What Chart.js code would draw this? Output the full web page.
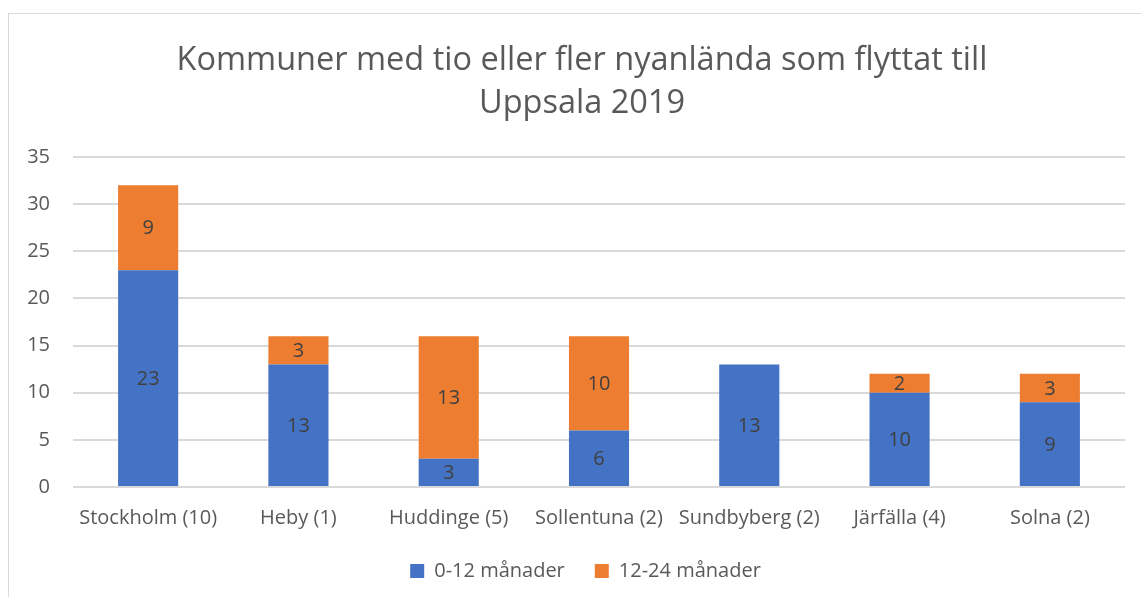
<!DOCTYPE html>
<html>
<head>
<meta charset="utf-8">
<script src="https://cdn.jsdelivr.net/npm/chart.js@4/dist/chart.umd.min.js"></script>
<style>
  html, body { margin: 0; padding: 0; background: #fff; }
  #wrap { position: relative; width: 1141px; height: 597px; overflow: hidden; }
  #frame { position: absolute; left: 8px; top: 13px; width: 1200px; height: 700px;
           border-left: 1px solid #d9d9d9; border-top: 1px solid #d9d9d9; }
  canvas { position: absolute; left: 0; top: 0; }
</style>
</head>
<body>
<div id="wrap">
  <div id="frame"></div>
  <canvas id="chartCanvas" width="1141" height="597"></canvas>
</div>
<script>
// Data
const kommuner = ['Stockholm (10)', 'Heby (1)', 'Huddinge (5)', 'Sollentuna (2)', 'Sundbyberg (2)', 'Järfälla (4)', 'Solna (2)'];
const manader0_12 = [23, 13, 3, 6, 13, 10, 9];
const manader12_24 = [9, 3, 13, 10, 0, 2, 3];
const yTicks = [0, 5, 10, 15, 20, 25, 30, 35];
const titelRader = ['Kommuner med tio eller fler nyanlända som flyttat till', 'Uppsala 2019'];

const fontFam = "'Open Sans', 'DejaVu Sans', sans-serif";
const grey = '#595959';

// titel, centrerad lite till höger som i Excel
const titlePlugin = {
    id: 'excelTitle',
    afterLayout(chart) {
        // flytta legenden lite åt höger, som i originalet
        if (chart.legend) {
            chart.legend.left += 10;
            chart.legend.right += 10;
        }
    },
    afterDraw(chart) {
        const ctx = chart.ctx;
        ctx.save();
        ctx.font = '32.5px ' + fontFam;
        ctx.fillStyle = grey;
        ctx.textAlign = 'center';
        ctx.textBaseline = 'alphabetic';
        titelRader.forEach((rad, i) => ctx.fillText(rad, 582, 70 + i * 43));
        ctx.restore();
    }
};

// enkla dataetiketter mitt i varje stapel
const labelPlugin = {
    id: 'barLabels',
    afterDatasetsDraw(chart) {
        const ctx = chart.ctx;
        ctx.save();
        ctx.font = '20px ' + fontFam;
        ctx.fillStyle = '#404040';
        ctx.textAlign = 'center';
        ctx.textBaseline = 'middle';
        chart.data.datasets.forEach((ds, i) => {
            const meta = chart.getDatasetMeta(i);
            meta.data.forEach((bar, j) => {
                const v = ds.data[j];
                if (!v) return;
                const p = bar.getProps(['x', 'y', 'base'], true);
                ctx.fillText(String(v), p.x, (p.y + p.base) / 2 + 1);
            });
        });
        ctx.restore();
    }
};

const ctx = document.getElementById('chartCanvas').getContext('2d');
new Chart(ctx, {
    type: 'bar',
    data: {
        labels: kommuner,
        datasets: [{
            label: '0-12 månader',
            data: manader0_12,
            backgroundColor: '#4472C4',
            borderWidth: 0
        }, {
            label: '12-24 månader',
            data: manader12_24,
            backgroundColor: '#ED7D31',
            borderWidth: 0
        }]
    },
    options: {
        responsive: false,
        animation: false,
        layout: { padding: { left: 26, right: 16, top: 157, bottom: 6 } },
        datasets: { bar: { categoryPercentage: 1, barPercentage: 0.4 } },
        plugins: {
            title: { display: false },
            legend: {
                position: 'bottom',
                labels: {
                    color: grey,
                    font: { family: fontFam, size: 20 },
                    boxWidth: 14,
                    boxHeight: 14,
                    padding: 30
                }
            },
            tooltip: { enabled: false }
        },
        scales: {
            x: {
                stacked: true,
                afterFit(scale) { scale.height -= 10; },
                grid: { display: false },
                border: { display: false },
                ticks: { color: grey, font: { family: fontFam, size: 20 }, padding: 11, maxRotation: 0 }
            },
            y: {
                stacked: true,
                min: 0,
                max: 35,
                afterBuildTicks(scale) { scale.ticks = yTicks.map(v => ({ value: v })); },
                afterFit(scale) { scale.width = 47; },
                grid: { color: '#d9d9d9', lineWidth: 2, drawTicks: false },
                border: { display: false },
                ticks: { color: grey, font: { family: fontFam, size: 20 }, padding: 23 }
            }
        }
    },
    plugins: [labelPlugin, titlePlugin]
});
</script>
</body>
</html>
